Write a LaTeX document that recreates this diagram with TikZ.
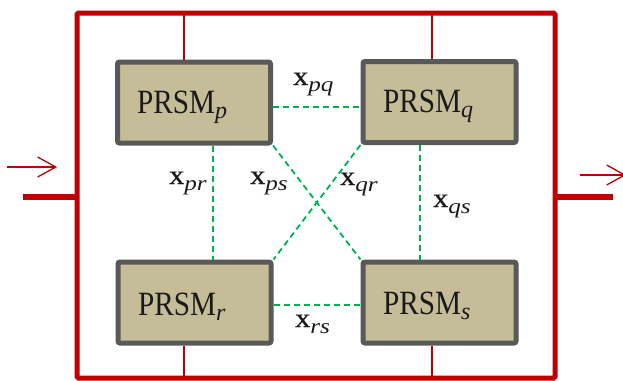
\documentclass[tikz,border=0pt]{standalone}
\usepackage{fontspec}
\setmainfont{Liberation Serif}
\newfontfamily\prsmfont[FakeStretch=0.86]{Liberation Serif}
\newfontfamily\labfont[FakeStretch=1.12,FakeBold=0.8]{Liberation Serif}
\newfontfamily\subfont[FakeStretch=1.2]{Liberation Serif}
\usetikzlibrary{arrows.meta}
\definecolor{frred}{HTML}{C00000}
\definecolor{boxfill}{HTML}{C4BD98}
\definecolor{boxline}{HTML}{595959}
\definecolor{dgreen}{HTML}{00B050}
\definecolor{txt}{HTML}{1A1A1A}
\newcommand\mysub[1]{\raisebox{-5pt}{\rmfamily\fontsize{24}{24}\selectfont\itshape #1}}
\newcommand\xlab[1]{{\labfont\fontsize{27}{27}\selectfont x}\raisebox{-6pt}{\subfont\fontsize{21}{21}\selectfont\itshape #1}}
\begin{document}
\begin{tikzpicture}[x=1pt,y=-1pt,
  frame/.style={draw=frred,line width=5pt,rounded corners=1.5pt},
  feed/.style={draw=frred,line width=2.8pt},
  io/.style={draw=frred,line width=5.5pt},
  flow/.style={draw=frred,line width=1.3pt,-{Straight Barb[length=18pt,width=20pt,line width=1.3pt]}},
  box/.style={draw=boxline,fill=boxfill,line width=5pt,rounded corners=2pt,minimum width=153pt,minimum height=81pt,inner sep=0pt},
  prsm/.style={text=txt,font=\prsmfont\fontsize{34}{34}\selectfont,inner sep=0pt,anchor=base west},
  link/.style={draw=dgreen,line width=1.8pt,dash pattern=on 6pt off 4pt},
  lab/.style={text=txt,inner sep=0pt,anchor=base west}]
\useasboundingbox (0,0) rectangle (623,380);
% outer frame
\draw[frame] (77,13) rectangle (555,378);
\coordinate (ftp) at (184,13);
\coordinate (ftq) at (432,13);
\coordinate (fbr) at (184,378);
\coordinate (fbs) at (432,378);
\coordinate (fl) at (77,197);
\coordinate (fr) at (555,197);
\coordinate (inl) at (23,197);
\coordinate (outr) at (613,197);
\coordinate (a1s) at (7,167);
\coordinate (a1e) at (57,167);
\coordinate (a2s) at (580,175);
\coordinate (a2e) at (626,175);
% boxes
\node[box] (p) at (194,102.5) {};
\node[box] (q) at (439.5,102) {};
\node[box] (r) at (194.5,302.5) {};
\node[box] (s) at (439.5,302.5) {};
% feeds
\draw[feed] (ftp) -- (ftp |- p.north);
\draw[feed] (ftq) -- (ftq |- q.north);
\draw[feed] (fbr) -- (fbr |- r.south);
\draw[feed] (fbs) -- (fbs |- s.south);
\draw[io] (inl) -- (fl);
\draw[io] (fr) -- (outr);
\draw[flow] (a1s) -- (a1e);
\draw[flow] (a2s) -- (a2e);
% links
\draw[link] (p.east |- 0,107) -- (q.west |- 0,107);
\draw[link] (r.east |- 0,305) -- (s.west |- 0,305);
\draw[link] (p.south -| 213,0) -- (r.north -| 213,0);
\draw[link] (q.south -| 420,0) -- (s.north -| 420,0);
\draw[link] (p.south east) -- (s.north west);
\draw[link] (q.south west) -- (r.north east);
% texts
\node[prsm] (pt) at (137,113) {PRSM\mysub{p}};
\node[prsm] (qt) at (383,112) {PRSM\mysub{q}};
\node[prsm] (rt) at (138,315) {PRSM\mysub{r}};
\node[prsm] (st) at (383,314) {PRSM\mysub{s}};
\node[lab] (lpq) at (293,85) {\xlab{pq}};
\node[lab] (lpr) at (169,184) {\xlab{pr}};
\node[lab] (lps) at (250,184) {\xlab{ps}};
\node[lab] (lqr) at (340,185) {\xlab{qr}};
\node[lab] (lqs) at (433,207) {\xlab{qs}};
\node[lab] (lrs) at (295,327) {\xlab{rs}};
\end{tikzpicture}
\end{document}
